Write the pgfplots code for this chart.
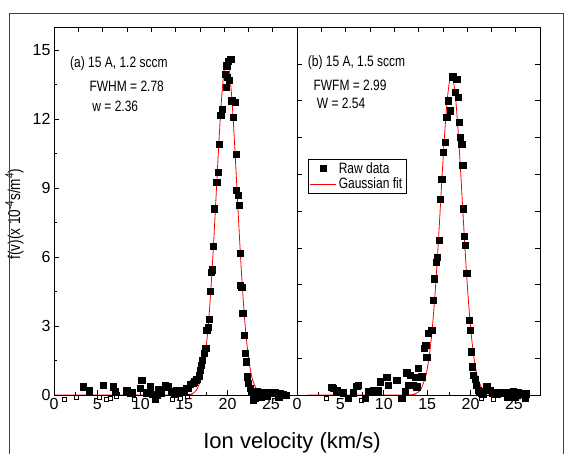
\documentclass[border=0pt]{standalone}
\usepackage{fontspec}
\setmainfont{Liberation Sans}
\newfontfamily\narrow[FakeStretch=0.8]{Liberation Sans}
\usepackage{pgfplots}
\pgfplotsset{compat=1.18}

\pgfplotsset{
  panel/.style={
    scale only axis, width=243pt, height=368pt,
    anchor=south west,
    xmin=0, xmax=28, ymin=0, ymax=16,
    clip=false,
    tick align=inside,
    major tick length=5pt, minor tick length=3pt,
    axis line style={line width=0.8pt},
    every tick/.append style={black, line width=0.6pt},
    tick label style={font=\fontsize{16}{19}\selectfont},
    /pgf/number format/assume math mode=true,
  },
  toponly/.style={
    xtick={2.8,5.6,8.4,11.2,14,16.8,19.6,22.4,25.2},
    xtick pos=right, xticklabels={}, ytick=\empty,
  },
  raw/.style={only marks, mark=square*, mark size=3.1pt, black},
  hollow/.style={only marks, mark=square*, mark size=2pt,
    mark options={fill=white, draw=black, line width=0.5pt}},
  fit/.style={red, line width=0.8pt, no marks, smooth},
}
\tikzset{note/.style={anchor=west, inner sep=0pt, font=\narrow\fontsize{15}{18}\selectfont}}

\begin{document}
\begin{tikzpicture}
\path[use as bounding box] (0,0) rectangle (569pt,-453pt);

% ---- (a) ----
\begin{axis}[panel, at={(54pt,-395pt)},
  xtick={0,5,...,25}, minor x tick num=1, xtick pos=left,
  ytick={0,3,...,15}, minor y tick num=1, ytick pos=left]
\addplot[hollow] coordinates {
 (1.19,-0.2) (2.61,-0.1) (5.22,-0.1) (6.07,-0.2) (6.53,-0.12) (7.22,-0.05)
 (9.25,-0.17) (13.67,-0.19) (14.5,-0.12) (15.4,-0.05)
};
\addplot[raw] coordinates {
 (3.38,0.36) (4.07,0.19) (5.68,0.43) (6.83,0.36) (7.03,0.14) (8.37,0.19)
 (8.76,0.07) (9.0,0.1) (9.91,0.29) (10.1,0.65) (10.68,0.1) (11.06,0.36)
 (11.3,0.05) (11.64,-0.19) (11.9,0.0) (12.0,0.25) (12.3,0.1) (12.79,0.43)
 (13.17,0.36) (13.56,0.14) (13.9,0.05) (14.13,0.19) (14.4,0.1) (14.7,0.22)
 (15.0,0.15) (15.29,0.29) (15.5,0.3) (15.67,0.48) (16.05,0.51) (16.16,0.58)
 (16.36,0.65) (16.44,0.69) (16.7,0.84) (16.82,1.08) (16.94,1.30) (17.09,1.52)
 (17.28,1.81) (17.47,2.02) (17.59,2.82) (17.78,2.96) (17.89,3.30) (17.97,4.53)
 (18.09,5.35) (18.24,5.45) (18.35,6.48) (18.47,8.10) (18.74,9.25) (18.93,9.69)
 (19.05,10.92) (19.2,12.15) (19.39,12.44) (19.7,13.95) (19.9,14.32) (20.08,14.53)
 (20.36,14.6) (19.97,13.81) (20.2,13.67) (19.82,13.38) (20.47,12.8) (20.85,12.73)
 (20.66,12.07) (20.97,10.46) (20.97,8.89) (21.23,8.68) (21.35,8.24) (21.43,6.15)
 (21.5,4.77) (21.62,4.70) (21.74,3.57) (21.89,2.6) (22.0,1.81) (22.12,1.45)
 (22.27,0.8) (22.39,0.51) (22.58,0.29) (22.77,0.14) (22.97,0.04) (22.96,-0.22)
 (23.2,-0.15) (23.35,0.14) (23.5,0.1) (23.7,0.12) (23.9,-0.1) (24.0,0.1)
 (24.3,0.13) (24.6,0.1) (24.6,-0.05) (24.9,0.12) (25.2,0.08) (25.5,0.1)
 (25.8,0.05) (25.9,-0.1) (26.1,0.08) (26.4,0.02) (26.7,0.0)
};
\addplot[fit] coordinates {
 (0,0) (14.9,0.003) (15.4,0.013) (15.9,0.056) (16.4,0.207) (16.9,0.639)
 (17.15,1.053) (17.4,1.66) (17.65,2.509) (17.9,3.629) (18.15,5.024) (18.4,6.661)
 (18.65,8.458) (18.9,10.28) (19.15,11.97) (19.4,13.34) (19.65,14.24) (19.9,14.55)
 (20.15,14.24) (20.4,13.34) (20.65,11.97) (20.9,10.28) (21.15,8.458) (21.4,6.661)
 (21.65,5.024) (21.9,3.629) (22.15,2.509) (22.4,1.66) (22.65,1.053) (22.9,0.639)
 (23.4,0.207) (23.9,0.056) (24.4,0.013) (24.9,0.003) (26.8,0)
};
\node[note] at (axis cs:1.84,14.39) {(a) 15 A, 1.2 sccm};
\node[note] at (axis cs:4.07,13.4) {FWHM = 2.78};
\node[note] at (axis cs:4.41,12.54) {w = 2.36};
\end{axis}
\begin{axis}[panel, at={(54pt,-395pt)}, toponly]
\end{axis}

% ---- (b) ----
\begin{axis}[panel, at={(297pt,-395pt)},
  xtick={0,5,...,25}, minor x tick num=1, xtick pos=left,
  ytick={1.6,3.2,4.8,6.4,8,9.6,11.2,12.8,14.4}, ytick pos=both, yticklabels={},
  legend cell align=left,
  legend style={at={(0.044,0.6405)}, anchor=north west, draw=black,
    line width=0.6pt, inner xsep=2pt, inner ysep=1pt, row sep=-1pt,
    font=\narrow\fontsize{15}{17}\selectfont}]
\addplot[hollow, forget plot] coordinates {
 (3.42,-0.12) (7.45,-0.22) (21.28,-0.12) (22.6,-0.2) (24.5,-0.12)
};
\addplot[raw, legend image code/.code={
   \draw[black, mark=square*, mark size=3pt] plot coordinates {(13pt,0pt)};}]
 coordinates {
 (4.0,0.33) (4.19,0.29) (4.57,0.19) (5.34,0.10) (5.91,-0.14) (6.49,0.10)
 (6.88,0.39) (7.06,0.43) (7.83,-0.14) (8.22,0.14) (8.79,0.19) (9.37,0.19)
 (9.56,0.58) (10.33,0.77) (10.52,0.43) (11.49,0.65) (12.06,-0.14) (12.44,0.14)
 (12.64,0.97) (12.83,0.43) (13.02,0.87) (13.4,0.43) (13.59,0.77) (13.79,0.36)
 (13.98,1.16) (14.37,0.80) (14.63,2.02) (14.83,2.17) (14.94,1.66) (15.13,2.68)
 (15.52,2.82) (15.71,4.12) (15.82,5.06) (16.01,5.78) (16.17,6.0) (16.4,6.72)
 (16.47,8.53) (16.67,9.40) (16.86,10.55) (17.05,10.99) (17.24,12.07) (17.44,12.8)
 (17.63,12.36) (17.93,13.84) (18.2,13.16) (18.4,13.74) (18.59,12.94) (18.7,11.86)
 (18.78,11.21) (18.97,10.92) (19.09,9.98) (19.16,8.10) (19.24,6.9) (19.39,6.51)
 (19.55,5.28) (19.82,3.25) (19.93,2.82) (20.05,1.88) (20.2,1.23) (20.31,0.87)
 (20.51,0.68) (20.62,0.43) (20.89,0.22) (21.0,0.15) (21.2,0.1) (21.5,0.05)
 (21.85,0.36) (22.2,0.2) (22.5,0.1) (22.8,0.12) (23.1,0.05) (23.4,0.1)
 (23.7,0.08) (24.0,0.12) (24.2,-0.08) (24.3,0.05) (24.6,0.1) (24.9,0.15)
 (25.1,-0.1) (25.2,0.05) (25.5,0.1) (25.8,0.08) (26.1,0.03) (26.3,-0.12) (26.4,0.06)
};
\addlegendentry{Raw data}
\addplot[fit, legend image code/.code={
   \draw[red, line width=0.8pt] (0pt,0pt) -- (26pt,0pt);}]
 coordinates {
 (1.2,0) (12.8,0.005) (13.3,0.021) (13.8,0.083) (14.3,0.275) (14.8,0.777)
 (15.05,1.231) (15.3,1.874) (15.55,2.74) (15.8,3.85) (16.05,5.20) (16.3,6.74)
 (16.55,8.40) (16.8,10.06) (17.05,11.57) (17.3,12.79) (17.55,13.58) (17.8,13.85)
 (18.05,13.58) (18.3,12.79) (18.55,11.57) (18.8,10.06) (19.05,8.40) (19.3,6.74)
 (19.55,5.20) (19.8,3.85) (20.05,2.74) (20.3,1.874) (20.55,1.231) (20.8,0.777)
 (21.3,0.275) (21.8,0.083) (22.3,0.021) (22.8,0.005) (26.8,0)
};
\addlegendentry{Gaussian fit}
\node[note] at (axis cs:1.23,14.46) {(b) 15 A, 1.5 sccm};
\node[note] at (axis cs:1.88,13.45) {FWFM = 2.99};
\node[note] at (axis cs:2.27,12.66) {W = 2.54};
\end{axis}
\begin{axis}[panel, at={(297pt,-395pt)}, toponly]
\end{axis}

% axis titles and outer frame
\node[font=\fontsize{22}{26}\selectfont, anchor=base] at (292pt,-448pt) {Ion velocity (km/s)};
\node[font=\narrow\fontsize{17}{20}\selectfont, rotate=90, anchor=base] at (20pt,-214pt)
  {f(v)(x 10\textsuperscript{-4}s/m\textsuperscript{4})};
\draw[line width=0.8pt, black!75] (9pt,-460pt) -- (9pt,-13pt) -- (563pt,-13pt) -- (563pt,-460pt);
\end{tikzpicture}
\end{document}
